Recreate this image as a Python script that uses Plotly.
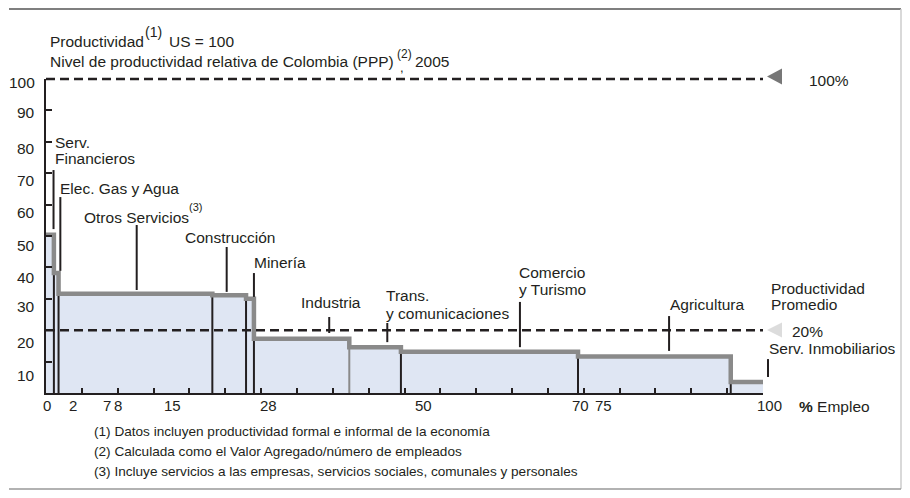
import plotly.graph_objects as go

# ---------------- data ----------------
sectors = ["Serv. Financieros", "Elec. Gas y Agua", "Otros Servicios", "Construcción", "Minería",
           "Industria", "Trans. y comunicaciones", "Comercio y Turismo", "Agricultura", "Serv. Inmobiliarios"]
emp_bounds = [0, 1.1, 1.75, 23.2, 27.9, 29.0, 42.3, 49.5, 74.2, 95.5, 100]   # cumulative % empleo
productivity = [50.4, 38.2, 31.6, 31.1, 30.0, 17.3, 14.6, 13.1, 11.6, 3.5]   # US = 100
us_level = 100
avg_level = 20
x_tick_labels = ["0", "2", "7", "8", "15", "28", "50", "70", "75", "100"]
x_tick_label_at = [0.2, 3.7, 8.5, 10.0, 17.7, 31.1, 52.6, 74.5, 77.7, 100.9]
y_tick_labels = ["10", "20", "30", "40", "50", "60", "70", "80", "90", "100"]
y_tick_label_at = [5.7, 16.2, 27.4, 36.9, 47.1, 57.6, 67.8, 78.0, 89.2, 99.0]
# leader lines: x (% empleo), y top, y bottom (productivity units)
leader_x = [1.05, 2.0, 12.65, 25.2, 29.0, 39.5, 47.6, 66.1, 86.9, 100.7]
leader_top = [71.0, 62.4, 53.5, 46.5, 38.2, 24.2, 22.3, 29.0, 24.5, 10.8]
leader_bot = [52.2, 38.9, 32.8, 32.2, 30.6, 19.1, 16.2, 14.6, 13.4, 5.1]

# ---------------- geometry / style ----------------
OFF = 8                              # page body margin of the browser
W, H = 910 - 2 * OFF, 498 - 2 * OFF  # figure size so the page does not overflow
# plot area in screen pixels
L, R, T, B = 46, 763, 79, 393
X_MAX, Y_MAX = 100, 100
INK = "#231f20"
FONT = "Liberation Sans, Arial, sans-serif"


def px(xs):
    return (xs - L) / (R - L)


def py(ys):
    return (B - ys) / (B - T)


fig = go.Figure()

# fill under the step
step_y = productivity + [productivity[-1]]
fig.add_trace(go.Scatter(x=emp_bounds, y=step_y, mode="lines", line=dict(width=0, shape="hv"),
                         fill="tozeroy", fillcolor="#dfe6f3", hoverinfo="skip", showlegend=False))

# dividers between sectors
div_x, div_y, gdiv_x, gdiv_y = [], [], [], []
for i in range(1, len(productivity)):
    b = emp_bounds[i]
    top = min(productivity[i - 1], productivity[i])
    if sectors[i - 1] == "Industria":
        gdiv_x += [b, b, None]
        gdiv_y += [0, top, None]
    else:
        div_x += [b, b, None]
        div_y += [0, top, None]
fig.add_trace(go.Scatter(x=div_x, y=div_y, mode="lines", line=dict(color=INK, width=2),
                         hoverinfo="skip", showlegend=False))
fig.add_trace(go.Scatter(x=gdiv_x, y=gdiv_y, mode="lines", line=dict(color="#8a8a8a", width=2),
                         hoverinfo="skip", showlegend=False))

# step line
fig.add_trace(go.Scatter(x=emp_bounds, y=step_y, mode="lines",
                         line=dict(color="#8a8a8a", width=4.5, shape="hv"),
                         hoverinfo="skip", showlegend=False))

shapes = []
# dashed reference lines
for lvl in (us_level, avg_level):
    shapes.append(dict(type="line", xref="paper", yref="paper", x0=0, x1=1,
                       y0=lvl / Y_MAX, y1=lvl / Y_MAX,
                       line=dict(color=INK, width=2.5, dash="9px,5px")))
# triangles
shapes.append(dict(type="path", xref="paper", yref="paper",
                   path=f"M {px(782)} {py(68.5)} L {px(782)} {py(84.5)} L {px(767)} {py(76.5)} Z",
                   fillcolor="#777777", line=dict(width=0)))
shapes.append(dict(type="path", xref="paper", yref="paper",
                   path=f"M {px(782)} {py(322.5)} L {px(782)} {py(337.5)} L {px(767)} {py(330)} Z",
                   fillcolor="#dcdcdc", line=dict(width=0)))
# leader lines
for lx, lt, lb in zip(leader_x, leader_top, leader_bot):
    shapes.append(dict(type="line", xref="paper", yref="paper",
                       x0=lx / X_MAX, x1=lx / X_MAX, y0=lb / Y_MAX, y1=lt / Y_MAX,
                       line=dict(color=INK, width=2)))
# frame (as close to the window edge as the page allows)
shapes.append(dict(type="line", xref="paper", yref="paper", x0=px(9), x1=px(901), y0=py(9), y1=py(9),
                   line=dict(color="#555555", width=1.5)))
shapes.append(dict(type="line", xref="paper", yref="paper", x0=px(901), x1=px(901), y0=py(489), y1=py(9),
                   line=dict(color="#cccccc", width=1.5)))
shapes.append(dict(type="line", xref="paper", yref="paper", x0=px(9), x1=px(901), y0=py(489), y1=py(489),
                   line=dict(color="#999999", width=1.5)))

ann = []


def text(xs, ys, s, size=15.5, anchor="left"):
    ann.append(dict(xref="paper", yref="paper", x=px(xs), y=py(ys), text=s, showarrow=False,
                    xanchor=anchor, yanchor="middle", font=dict(size=size, color=INK, family=FONT)))


# titles
text(48, 41, "Productividad")
text(143, 32, "(1)", 14)
text(167, 41, "US = 100")
text(48, 62, "Nivel de productividad relativa de Colombia (PPP)")
text(395, 54, "(2)", 12)
text(398, 67, ",", 13)
text(413, 62, "2005")

# sector labels
text(53, 142, "Serv.")
text(53, 158, "Financieros")
text(58, 188, "Elec. Gas y Agua")
text(82, 217, "Otros Servicios")
text(187, 207, "(3)", 11)
text(183, 237, "Construcción")
text(252, 262, "Minería")
text(299, 302, "Industria")
text(384, 295, "Trans.")
text(384, 313, "y comunicaciones")
text(517, 272, "Comercio")
text(517, 289, "y Turismo")
text(668, 304, "Agricultura")
text(769, 288, "Productividad")
text(769, 304, "Promedio")
text(767, 348, "Serv. Inmobiliarios")
text(807, 80, "100%")
text(790, 331, "20%")
text(797, 406, "<b>%</b> Empleo")

# footnotes
text(92, 431, "(1) Datos incluyen productividad formal e informal de la economía", 13.6)
text(92, 451, "(2) Calculada como el Valor Agregado/número de empleados", 13.6)
text(92, 471, "(3) Incluye servicios a las empresas, servicios sociales, comunales y personales", 13.6)

# axis labels
for lab, pos in zip(x_tick_labels, x_tick_label_at):
    ann.append(dict(xref="paper", yref="paper", x=pos / X_MAX, y=py(405.5), text=lab, showarrow=False,
                    xanchor="center", yanchor="middle", font=dict(size=15, color=INK, family=FONT)))
for lab, pos in zip(y_tick_labels, y_tick_label_at):
    ann.append(dict(xref="paper", yref="paper", x=px(37), y=pos / Y_MAX, text=lab, showarrow=False,
                    xanchor="right", yanchor="middle", font=dict(size=15.5, color=INK, family=FONT)))

fig.update_layout(
    width=W, height=H,
    margin=dict(l=L - OFF, r=(W + OFF) - R, t=T - OFF, b=(H + OFF) - B, autoexpand=False),
    paper_bgcolor="white", plot_bgcolor="white",
    shapes=shapes, annotations=ann, showlegend=False,
    xaxis=dict(range=[0, X_MAX], showgrid=False, zeroline=False, showline=True, linecolor=INK, linewidth=2,
               ticks="inside", ticklen=5, tickwidth=1.5, tickcolor=INK,
               tickvals=list(range(5, 100, 5)), showticklabels=False, fixedrange=True),
    yaxis=dict(range=[0, Y_MAX], showgrid=False, zeroline=False, showline=True, linecolor=INK, linewidth=2,
               ticks="inside", ticklen=6, tickwidth=1.5, tickcolor=INK,
               tickvals=list(range(10, 100, 10)), showticklabels=False, fixedrange=True),
)

fig.write_html("out.html")
